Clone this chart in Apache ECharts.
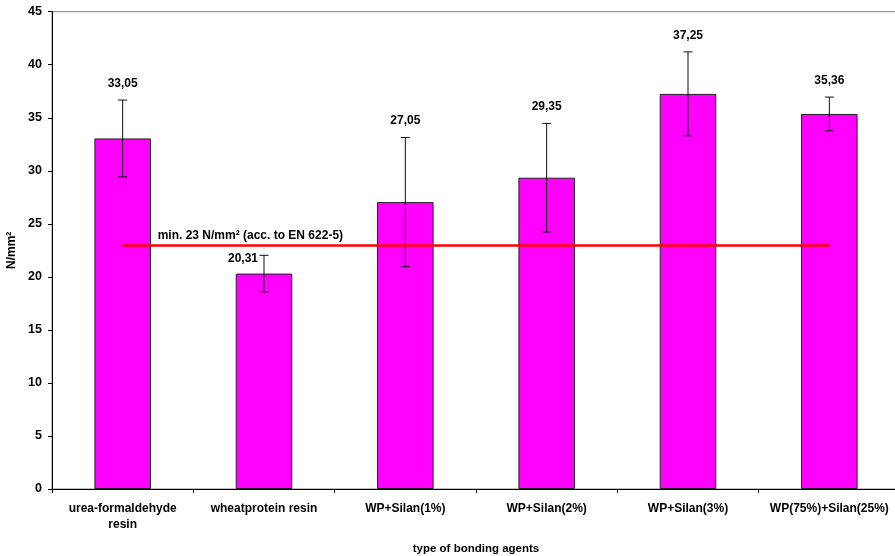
<!DOCTYPE html>
<html>
<head>
<meta charset="utf-8">
<script src="https://cdn.jsdelivr.net/npm/echarts@6/dist/echarts.min.js"></script>
<style>
html,body{margin:0;padding:0;background:#fff;}
#chart{width:895px;height:556px;}
</style>
</head>
<body>
<div id="chart"></div>
<script>
var categories = ['urea-formaldehyde\nresin', 'wheatprotein resin', 'WP+Silan(1%)', 'WP+Silan(2%)', 'WP+Silan(3%)', 'WP(75%)+Silan(25%)'];
var values = [33.05, 20.31, 27.05, 29.35, 37.25, 35.36];
var errors = [3.62, 1.72, 6.09, 5.12, 3.96, 1.59];
var valueLabels = ['33,05', '20,31', '27,05', '29,35', '37,25', '35,36'];
var minimum = 23;
var minimumLabel = 'min. 23 N/mm² (acc. to EN 622-5)';
var yTicks = {min: 0, max: 45, interval: 5};

var FONT = '"Liberation Sans", Arial, sans-serif';
var chart = echarts.init(document.getElementById('chart'));

var errData = categories.map(function (c, i) { return [i, values[i], errors[i]]; });

chart.setOption({
  animation: false,
  backgroundColor: '#fff',
  grid: {left: 52, top: 11.7, right: -5, bottom: 67, containLabel: false, outerBoundsMode: 'none', show: true, borderColor: '#808080', borderWidth: 1, backgroundColor: 'transparent'},
  xAxis: {
    type: 'category',
    data: categories,
    boundaryGap: true,
    name: 'type of bonding agents',
    nameLocation: 'middle',
    nameGap: 54,
    nameTextStyle: {fontFamily: FONT, fontWeight: 'bold', fontSize: 11.5, color: '#000'},
    axisLine: {lineStyle: {color: '#000', width: 1}},
    axisTick: {show: true, alignWithLabel: false, length: 4, lineStyle: {color: '#000'}},
    axisLabel: {fontFamily: FONT, fontWeight: 'bold', fontSize: 12, color: '#000', margin: 12, interval: 0, lineHeight: 16}
  },
  yAxis: {
    type: 'value',
    min: yTicks.min, max: yTicks.max, interval: yTicks.interval,
    name: 'N/mm²',
    nameLocation: 'middle',
    nameRotate: 90,
    nameGap: 32,
    nameTextStyle: {fontFamily: FONT, fontWeight: 'bold', fontSize: 12, color: '#000'},
    axisLine: {show: true, lineStyle: {color: '#000', width: 1}},
    axisTick: {show: true, length: 4, lineStyle: {color: '#000'}},
    splitLine: {show: false},
    axisLabel: {fontFamily: FONT, fontWeight: 'bold', fontSize: 12.5, color: '#000', margin: 10}
  },
  series: [
    {
      type: 'bar',
      data: values,
      barWidth: '40%',
      itemStyle: {color: '#FF00FF', borderColor: '#222', borderWidth: 1},
      z: 2
    },
    {
      type: 'custom',
      data: errData,
      z: 3,
      renderItem: function (params, api) {
        var i = params.dataIndex;
        var x = api.value(0), v = api.value(1), e = api.value(2);
        var top = api.coord([x, v + e]);
        var bot = api.coord([x, v - e]);
        var hw = 4.5;
        var st = {stroke: '#111', lineWidth: 1};
        var lx, ly, align;
        if (i === 1) { lx = top[0] - 6; ly = top[1] + 3; align = 'right'; }
        else { lx = top[0]; ly = top[1] - 16.5; align = 'center'; }
        return {
          type: 'group',
          children: [
            {type: 'line', shape: {x1: top[0], y1: top[1], x2: bot[0], y2: bot[1]}, style: st},
            {type: 'line', shape: {x1: top[0] - hw, y1: top[1], x2: top[0] + hw, y2: top[1]}, style: st},
            {type: 'line', shape: {x1: bot[0] - hw, y1: bot[1], x2: bot[0] + hw, y2: bot[1]}, style: st},
            {type: 'text', style: {text: valueLabels[i], x: lx, y: ly, align: align, verticalAlign: 'middle', font: 'bold 12px ' + FONT, fill: '#000'}}
          ]
        };
      }
    },
    {
      type: 'line',
      data: [],
      z: 5,
      markLine: {
        silent: true,
        symbol: ['none', 'none'],
        lineStyle: {color: '#FF0000', width: 2.5, type: 'solid'},
        label: {
          show: true,
          position: 'insideStartTop',
          formatter: minimumLabel,
          fontFamily: FONT, fontWeight: 'bold', fontSize: 12, color: '#000',
          distance: 3,
          padding: [0, 0, 0, 32]
        },
        data: [[{xAxis: 0, yAxis: minimum}, {xAxis: categories.length - 1, yAxis: minimum}]]
      }
    }
  ]
});
</script>
</body>
</html>
